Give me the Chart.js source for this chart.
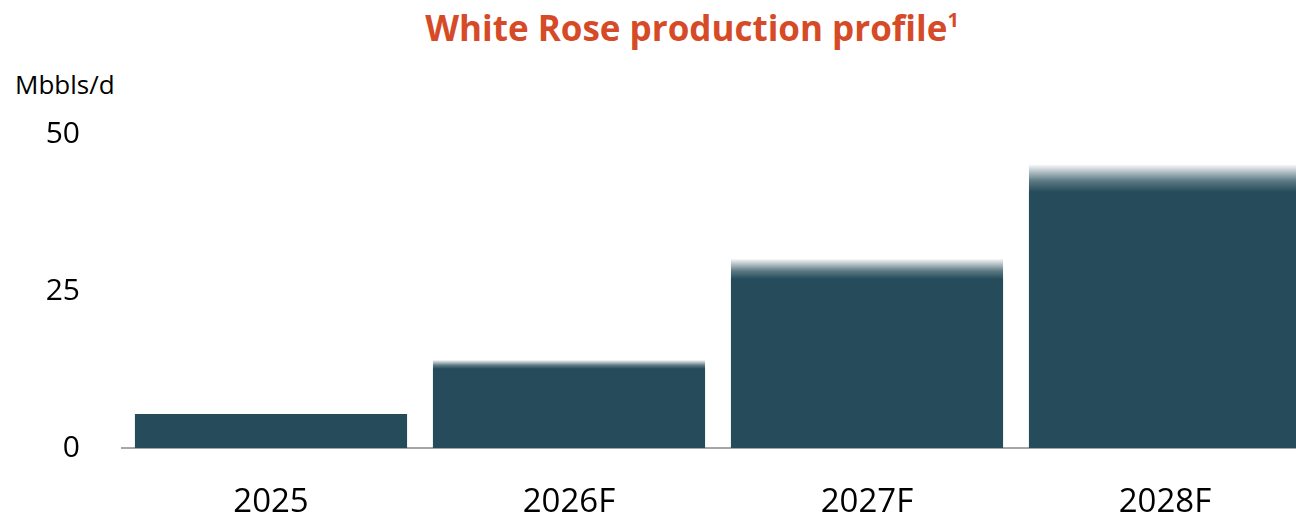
<!DOCTYPE html>
<html>
<head>
<meta charset="utf-8">
<script src="https://cdn.jsdelivr.net/npm/chart.js@4/dist/chart.umd.min.js"></script>
<style>
    html, body { margin: 0; padding: 0; background: #fff; overflow: hidden; }
    body { width: 1296px; height: 512px; position: relative; }
    #title {
        position: absolute; left: 0; top: 8px; width: 1384px; text-align: center;
        font: bold 35px "Open Sans", sans-serif; color: #D64B27; line-height: 40px; white-space: nowrap;
    }
    #title sup { font-size: 20px; line-height: 0; vertical-align: 14px; }
    #unit {
        position: absolute; left: 15px; top: 68px;
        font: 26px "Open Sans", sans-serif; color: #000; line-height: 32px;
    }
    #wrap { position: absolute; left: 0; top: 0; width: 1314px; height: 512px; }
</style>
</head>
<body>
<div id="title">White Rose production profile<sup>1</sup></div>
<div id="unit">Mbbls/d</div>
<div id="wrap"><canvas id="prodChart"></canvas></div>
<script>
const years = ['2025', '2026F', '2027F', '2028F'];
const solidValues = [5.4, 12.6, 26.9, 40.8];   // solid part of each bar
const upperValues = [5.4, 14.0, 30.1, 45.1];   // top of the faded range
const yTicks = [0, 25, 50];

const barColor = '#264C5B';

// range bar runs from 0 to the upper value; solid up to solidValue, then fades out
function fadeFill(context) {
    const chart = context.chart;
    if (!chart.chartArea) return barColor;
    const i = context.dataIndex;
    const y = chart.scales.y;
    const top = y.getPixelForValue(upperValues[i]);
    const mid = y.getPixelForValue(solidValues[i]);
    const base = y.getPixelForValue(0);
    if (mid - top < 1) return barColor;
    const g = chart.ctx.createLinearGradient(0, top, 0, base);
    const s = (mid - top) / (base - top);
    g.addColorStop(0, 'rgba(38,76,91,0.04)');
    g.addColorStop(s * 0.6, 'rgba(38,76,91,0.75)');
    g.addColorStop(s, 'rgba(38,76,91,1)');
    g.addColorStop(1, 'rgba(38,76,91,1)');
    return g;
}

const ctx = document.getElementById('prodChart').getContext('2d');
new Chart(ctx, {
    type: 'bar',
    data: {
        labels: years,
        datasets: [
            {
                label: 'Production',
                data: solidValues,
                backgroundColor: barColor,
                grouped: false,
                order: 0,
                categoryPercentage: 1,
                barPercentage: 0.913
            },
            {
                label: 'Range',
                data: upperValues,
                backgroundColor: fadeFill,
                grouped: false,
                order: 1,
                categoryPercentage: 1,
                barPercentage: 0.913
            }
        ]
    },
    options: {
        responsive: true,
        maintainAspectRatio: false,
        animation: false,
        layout: { padding: { top: 134, left: 0, right: 0, bottom: 0 } },
        plugins: { legend: { display: false }, tooltip: { enabled: false } },
        scales: {
            x: {
                grid: { display: false },
                border: { display: true, color: '#A6A6A6', width: 2 },
                ticks: {
                    color: '#000',
                    padding: 30,
                    font: { family: 'Open Sans', size: 33, lineHeight: 1 }
                },
                afterFit(axis) { axis.height = 64; }
            },
            y: {
                min: 0,
                max: 50,
                grid: { display: false },
                border: { display: false },
                afterBuildTicks(axis) { axis.ticks = yTicks.map(v => ({ value: v })); },
                ticks: {
                    color: '#000',
                    padding: 34,
                    font: { family: 'Open Sans', size: 30 }
                },
                afterFit(axis) { axis.width = 122; }
            }
        }
    }
});
</script>
</body>
</html>
